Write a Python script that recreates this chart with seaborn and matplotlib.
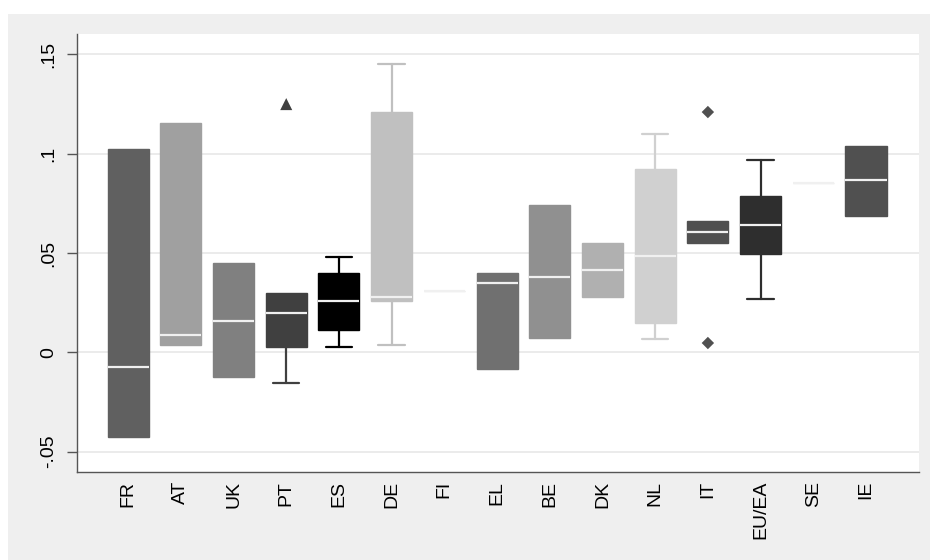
import numpy as np
import matplotlib
matplotlib.use("Agg")
import matplotlib.pyplot as plt
import seaborn as sns

countries = ["FR", "AT", "UK", "PT", "ES", "DE", "FI", "EL", "BE", "DK", "NL", "IT", "EU/EA", "SE", "IE"]
q1 = [-0.0425, 0.0037, -0.0126, 0.0027, 0.0111, 0.0257, 0.0307, -0.0084, 0.0072, 0.0277, 0.0149, 0.0549, 0.0497, 0.0851, 0.0688]
med = [-0.0074, 0.0087, 0.0158, 0.0198, 0.0257, 0.0280, 0.0307, 0.0349, 0.0379, 0.0414, 0.0485, 0.0607, 0.0643, 0.0851, 0.0866]
q3 = [0.1024, 0.1154, 0.0451, 0.0300, 0.0401, 0.1211, 0.0307, 0.0401, 0.0742, 0.0552, 0.0923, 0.0663, 0.0785, 0.0851, 0.1040]
whislo = [-0.0425, 0.0037, -0.0126, -0.0153, 0.0027, 0.0037, 0.0307, -0.0084, 0.0072, 0.0277, 0.0067, 0.0549, 0.0268, 0.0851, 0.0688]
whishi = [0.1024, 0.1154, 0.0451, 0.0300, 0.0480, 0.1452, 0.0307, 0.0401, 0.0742, 0.0552, 0.1099, 0.0663, 0.0968, 0.0851, 0.1040]

# outside values
out_pt = [0.125]
out_it = [0.121, 0.0047]

# stata gray levels per box
greys = ["#606060", "#a0a0a0", "#808080", "#404040", "#000000", "#c0c0c0", "#e4e4e4", "#707070",
         "#909090", "#b0b0b0", "#d0d0d0", "#505050", "#2e2e2e", "#eaeaea", "#505050"]

sns.set_theme(style="white")
plt.rcParams["font.family"] = ["Liberation Sans", "DejaVu Sans"]

fig = plt.figure(figsize=(9.3, 5.6), dpi=100)
fig.patch.set_facecolor("white")
fig.patches.append(plt.Rectangle((8 / 930, 0), 1, 546 / 560, transform=fig.transFigure,
                                 facecolor="#efefef", edgecolor="none", zorder=-10))
ax = fig.add_axes([77 / 930, 88.3 / 560, 841.7 / 930, 437.7 / 560])
ax.set_facecolor("white")

stats = []
for i, c in enumerate(countries):
    stats.append({"label": c, "q1": q1[i], "med": med[i], "q3": q3[i],
                  "whislo": whislo[i], "whishi": whishi[i], "fliers": []})

pos = np.arange(len(countries))
bp = ax.bxp(stats, positions=pos, widths=0.78, capwidths=0.5, patch_artist=True,
            showfliers=False, manage_ticks=False, zorder=3)

for i, col in enumerate(greys):
    bp["boxes"][i].set_facecolor(col)
    bp["boxes"][i].set_edgecolor(col)
    bp["boxes"][i].set_linewidth(1)
    for ln in bp["whiskers"][2 * i:2 * i + 2] + bp["caps"][2 * i:2 * i + 2]:
        ln.set_color(col)
        ln.set_linewidth(1.6)
    # no whisker drawn when it ends at the box
    if whislo[i] == q1[i]:
        bp["caps"][2 * i].set_visible(False)
    if whishi[i] == q3[i]:
        bp["caps"][2 * i + 1].set_visible(False)
    bp["medians"][i].set_color("#f0f0f0")
    bp["medians"][i].set_linewidth(1.6)

sns.scatterplot(x=[countries.index("PT")] * len(out_pt), y=out_pt, marker="^", s=75,
                color="#404040", edgecolor="none", ax=ax, zorder=4)
sns.scatterplot(x=[countries.index("IT")] * len(out_it), y=out_it, marker="D", s=40,
                color="#505050", edgecolor="none", ax=ax, zorder=4)

ax.set_xlim(-0.97, 15.0)
ax.set_ylim(-0.0601, 0.1603)
yt = [-0.05, 0, 0.05, 0.1, 0.15]
ax.set_yticks(yt)
ax.set_yticklabels(["-.05", "0", ".05", ".1", ".15"], rotation=90, va="center", fontsize=14)
ax.set_xticks(pos)
ax.set_xticklabels(countries, rotation=90, fontsize=14)
ax.yaxis.grid(True, color="#e6e6e6", linewidth=1.1, zorder=0)
ax.set_axisbelow(True)
ax.tick_params(axis="y", length=7, width=1, color="#555555", pad=7, left=True, labelcolor="black")
ax.tick_params(axis="x", length=0, pad=6.5, labelcolor="black")
sns.despine(ax=ax)
for s in ["left", "bottom"]:
    ax.spines[s].set_color("#555555")
    ax.spines[s].set_linewidth(1)

fig.savefig("out.png", dpi=100)
